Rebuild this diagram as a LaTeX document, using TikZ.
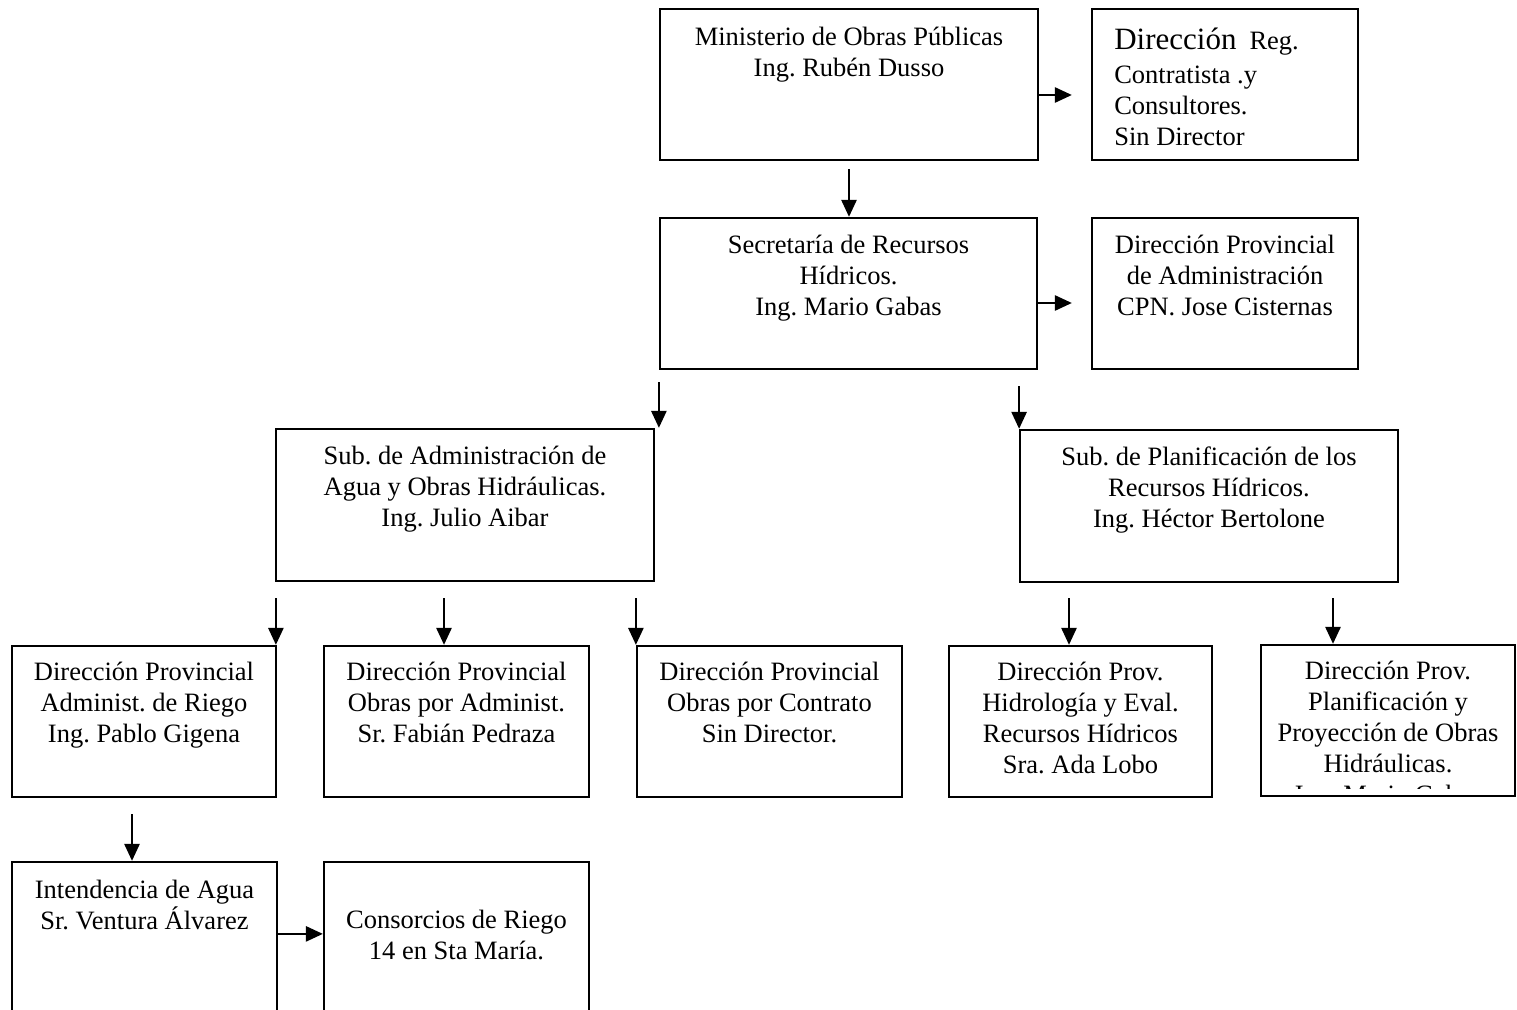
\documentclass[tikz,border=0pt]{standalone}
\usepackage{fontspec}
\setmainfont{Liberation Serif}
\usetikzlibrary{arrows.meta,calc}
\newcommand\fs{\fontsize{13.25pt}{15.5pt}\selectfont\frenchspacing}
\newcommand\st{\rule{0pt}{12.5pt}}
\tikzset{
  box/.style={draw, line width=1.1pt, rectangle, inner sep=0pt},
  txt/.style={font=\fs, align=center, inner sep=0pt, anchor=north},
  arr/.style={line width=1.3pt, -{Triangle[length=8.5pt,width=7.5pt]}}
}
\begin{document}
\begin{tikzpicture}[x=0.5pt,y=-0.5pt]
\clip (0,0) rectangle (1517,1010);
\fill[white] (0,0) rectangle (1517,1010);
% boxes
\node[box, minimum width=189pt, minimum height=75.5pt] (A) at (849,84.5) {};
\node[box, minimum width=133pt, minimum height=75.5pt] (B) at (1225,84.5) {};
\node[box, minimum width=188.5pt, minimum height=75.5pt] (C) at (848.5,293.5) {};
\node[box, minimum width=133pt, minimum height=75.5pt] (D) at (1225,293.5) {};
\node[box, minimum width=189pt, minimum height=76pt] (E) at (465,505) {};
\node[box, minimum width=189pt, minimum height=76pt] (F) at (1209,506) {};
\node[box, minimum width=132pt, minimum height=75.5pt] (G) at (144,721.5) {};
\node[box, minimum width=132.5pt, minimum height=75.5pt] (H) at (456.5,721.5) {};
\node[box, minimum width=132.5pt, minimum height=75.5pt] (I) at (769.5,721.5) {};
\node[box, minimum width=131.5pt, minimum height=75.5pt] (J) at (1080.5,721.5) {};
\node[box, minimum width=127pt, minimum height=75.5pt] (K) at (1388,720.5) {};
\node[box, minimum width=132.5pt, minimum height=89pt] (L) at (144.5,951) {};
\node[box, minimum width=132.5pt, minimum height=89pt] (M) at (456.5,951) {};
% texts
\node[txt] (At) at ([yshift=-6pt]A.north) {\st Ministerio de Obras Públicas\\Ing. Rubén Dusso};
\node[font=\fs, align=left, inner sep=0pt, anchor=north west] (Bt) at ([xshift=11.5pt,yshift=-6.5pt]B.north west)
  {\rule{0pt}{14pt}{\fontsize{15.5pt}{18pt}\selectfont Dirección}\hspace{6.5pt}Reg.\\[1.5pt]Contratista .y\\Consultores.\\Sin Director};
\node[txt] (Ct) at ([yshift=-5.75pt]C.north) {\st Secretaría de Recursos\\Hídricos.\\Ing. Mario Gabas};
\node[txt] (Dt) at ([yshift=-5.75pt]D.north) {\st Dirección Provincial\\de Administración\\CPN. Jose Cisternas};
\node[txt] (Et) at ([yshift=-5.75pt]E.north) {\st Sub. de Administración de\\Agua y Obras Hidráulicas.\\Ing. Julio Aibar};
\node[txt] (Ft) at ([yshift=-5.75pt]F.north) {\st Sub. de Planificación de los\\Recursos Hídricos.\\Ing. Héctor Bertolone};
\node[txt] (Gt) at ([yshift=-5.25pt]G.north) {\st Dirección Provincial\\Administ. de Riego\\Ing. Pablo Gigena};
\node[txt] (Ht) at ([yshift=-5.25pt]H.north) {\st Dirección Provincial\\Obras por Administ.\\Sr. Fabián Pedraza};
\node[txt] (It) at ([yshift=-5.25pt]I.north) {\st Dirección Provincial\\Obras por Contrato\\Sin Director.};
\node[txt] (Jt) at ([yshift=-5.25pt]J.north) {\st Dirección Prov.\\Hidrología y Eval.\\Recursos Hídricos\\Sra. Ada Lobo};
\begin{scope}
  \clip ([xshift=1pt]K.north west) rectangle ($(K.south east)+(-2,-9)$);
  \node[txt] (Kt) at ([yshift=-5.25pt]K.north) {\st Dirección Prov.\\Planificación y\\Proyección de Obras\\Hidráulicas.\\Ing. Mario Gabas};
\end{scope}
\node[txt] (Lt) at ([yshift=-6pt]L.north) {\st Intendencia de Agua\\Sr. Ventura Álvarez};
\node[txt] (Mt) at ([yshift=-21pt]M.north) {\st Consorcios de Riego\\14 en Sta María.};
% arrows
\draw[arr] ($(A.south)+(0,8)$) -- (A.south |- C.north);
\draw[arr] ($(A.east)+(0,10.5)$) -- ($(A.east -| B.west)+(-19,10.5)$);
\draw[arr] ($(C.east)+(0,9.5)$) -- ($(C.east -| D.west)+(-19,9.5)$);
\draw[arr] ($(C.south west)+(0,12)$) -- (C.south west |- E.north);
\draw[arr] ($(C.south east)+(-19,16)$) -- ($(C.south east |- F.north)+(-19,0)$);
\draw[arr] ($(E.south west)+(1,16)$) -- ($(E.south west |- G.north)+(1,0)$);
\draw[arr] ($(E.south -| H.north)+(-12.5,16)$) -- ($(H.north)+(-12.5,0)$);
\draw[arr] ($(E.south -| I.north west)+(0,16)$) -- (I.north west);
\draw[arr] ($(F.south -| J.north)+(-11.5,15)$) -- ($(J.north)+(-11.5,0)$);
\draw[arr] ($(F.south -| K.north)+(-55,15)$) -- ($(K.north)+(-55,0)$);
\draw[arr] ($(G.south -| L.north)+(-12.5,16)$) -- ($(L.north)+(-12.5,0)$);
\draw[arr] ($(L.north east)+(0,73)$) -- ($(M.north west)+(0,73)$);
\end{tikzpicture}
\end{document}
